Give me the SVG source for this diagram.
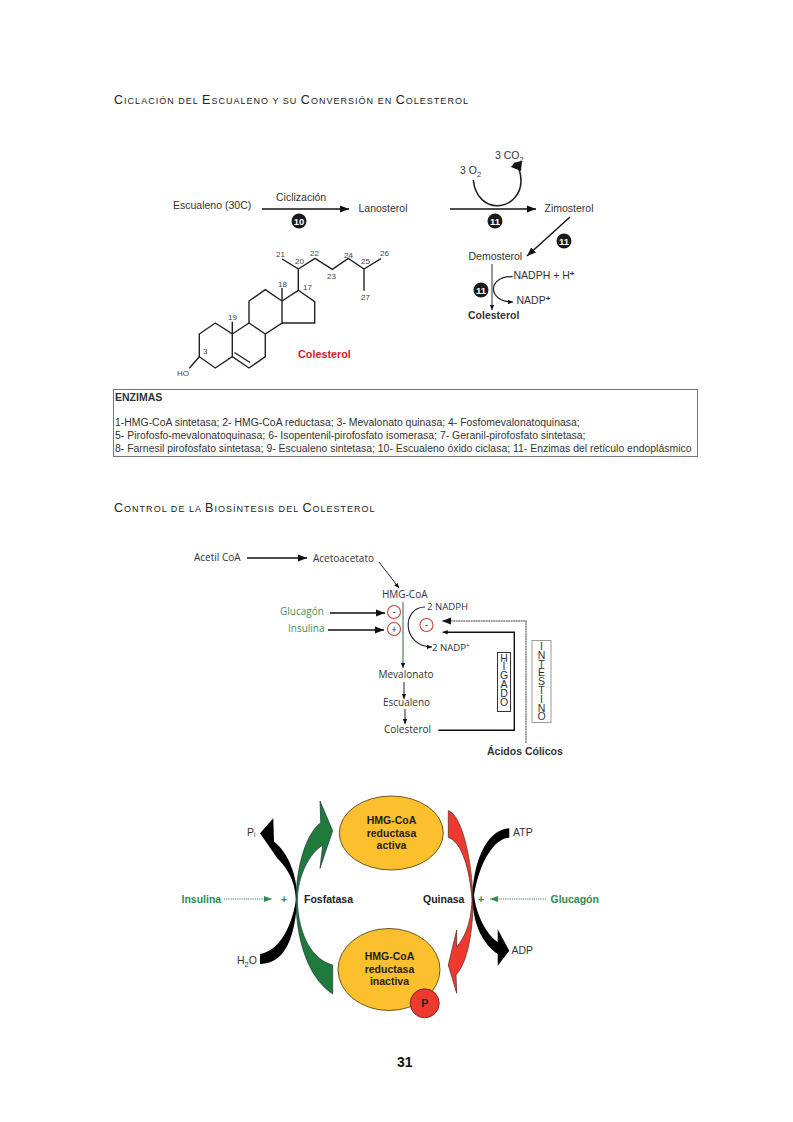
<svg xmlns="http://www.w3.org/2000/svg" width="793" height="1122" viewBox="0 0 793 1122">
<style>
text{font-family:"Liberation Sans",Arial,sans-serif;fill:#333}
.h{font-size:12.5px;letter-spacing:1.02px;fill:#222}
.h tspan{font-size:9px}
.a{font-size:10.5px;fill:#333}
.n{font-size:8px;fill:#444}
.bd{font-weight:bold}
.c{font-family:"Open Sans","Noto Sans",sans-serif;font-size:10px;fill:#333}
.g{fill:#3f8f55}
.ln{fill:none;stroke:#111;stroke-width:1.4}
.st{fill:none;stroke:#222;stroke-width:1.4}
.bn{fill:#1a1a1a}
.bt{fill:#fff;font-size:9.5px;font-weight:bold;text-anchor:middle}
.r{fill:#fff;stroke:#c8403c;stroke-width:1.1}
.rt{font-family:"Open Sans",sans-serif;font-size:10px;text-anchor:middle;fill:#333}
.e{fill:#fcc02e;stroke:#6d5a22;stroke-width:1}
.et{font-size:10.5px;font-weight:bold;text-anchor:middle;fill:#222}
.v{font-size:10.5px;writing-mode:vertical-rl;text-orientation:upright;letter-spacing:-3.2px;fill:#333}
</style>
<defs>
<marker id="m" markerUnits="userSpaceOnUse" markerWidth="10" markerHeight="8" refX="9" refY="4" orient="auto"><path d="M0 .5L9 4L0 7.5z" fill="#111"/></marker>
<marker id="s" markerUnits="userSpaceOnUse" markerWidth="6" markerHeight="6" refX="5" refY="3" orient="auto"><path d="M0 .8L5 3L0 5.2z" fill="#111"/></marker>
<marker id="gm" markerUnits="userSpaceOnUse" markerWidth="10" markerHeight="8" refX="8" refY="4" orient="auto"><path d="M0 1L8 4L0 7z" fill="#2d8a50"/></marker>
</defs>

<text class="h" x="114" y="104">C<tspan>ICLACIÓN DEL </tspan>E<tspan>SCUALENO Y SU </tspan>C<tspan>ONVERSIÓN EN </tspan>C<tspan>OLESTEROL</tspan></text>
<text class="h" x="114" y="512">C<tspan>ONTROL DE LA </tspan>B<tspan>IOSÍNTESIS DEL </tspan>C<tspan>OLESTEROL</tspan></text>

<g id="connectors" fill="none">
<path class="ln" d="M262 209H349" marker-end="url(#m)"/>
<path class="ln" d="M450 209H536" marker-end="url(#m)"/>
<path class="ln" d="M570 217L527 256" marker-end="url(#m)"/>
<path d="M492 264V310" stroke="#333" stroke-width="1" marker-end="url(#s)"/>
<path d="M512.7 276.7C487 276 487 302 513 302" stroke="#222" stroke-width="1.2" marker-end="url(#s)"/>
<path d="M473.3 180C475 198 487 205.7 497 205.7C511 205.7 521 194 521 181C521 174 519 168 516 164" stroke="#222" stroke-width="1.6"/>
<path d="M511 167L514.5 162.500L522 161L521 171z" fill="#111"/>
<path class="ln" d="M247 558H307" marker-end="url(#m)"/>
<path d="M379 562L399 588" stroke="#222" stroke-width="1" marker-end="url(#s)"/>
<path class="ln" d="M330 613H385" marker-end="url(#m)"/>
<path class="ln" d="M328 630H384" marker-end="url(#m)"/>
<path d="M403 602V668" stroke="#2f6b3d" stroke-width="1" marker-end="url(#s)"/>
<path d="M404 682V699" stroke="#222" stroke-width="1" marker-end="url(#s)"/>
<path d="M405 709V724" stroke="#222" stroke-width="1" marker-end="url(#s)"/>
<path d="M425 607C402 607 401 646 432 647" stroke="#222" stroke-width="1.1" marker-end="url(#s)"/>
<path d="M526 742.700V621H442" stroke="#808080" stroke-width="1.5" stroke-dasharray="2 .5" marker-end="url(#m)"/>
<path d="M438.300 730.300H514.300V632.300H442.700" stroke="#111" stroke-width="1.4" marker-end="url(#s)"/>
<path d="M224 899H272" stroke="#2d8a50" stroke-width="1" stroke-dasharray="1.2 1" marker-end="url(#gm)"/>
<path d="M546 899H490" stroke="#2d8a50" stroke-width="1" stroke-dasharray="1.2 1" marker-end="url(#gm)"/>
</g>

<g id="steroid" class="st">
<path d="M199.3 356.7V334L215.3 323L232.3 334V356.7L215.3 368Z"/>
<path d="M232.3 334L249 323L265.3 334V356.7L249 368L232.3 356.7"/>
<path d="M234.5 352.5L250 362.5"/>
<path d="M249 323V301L265.3 289.7L282 301V323L265.3 334"/>
<path d="M282 301L298.3 290.3L314.7 301.7V323H282"/>
<path d="M298.3 290.3V269L282 259M298.3 269L315 258.3L332.3 269.3L348.3 258.3L364 269L381 258.7M364 269V290.7"/>
<path d="M282 301V288M232.3 334V321.7M199.3 356.7L189.3 368.3"/>
</g>
<g id="steroid-labels">
<text class="n" x="276" y="257">21</text><text class="n" x="295" y="264">20</text><text class="n" x="310" y="256">22</text><text class="n" x="327" y="279">23</text><text class="n" x="344" y="258">24</text><text class="n" x="361" y="264">25</text><text class="n" x="380" y="256">26</text><text class="n" x="361" y="300">27</text><text class="n" x="278" y="287">18</text><text class="n" x="303" y="290">17</text><text class="n" x="228" y="320">19</text><text class="n" x="203" y="354">3</text><text class="n" x="177" y="376">HO</text>
<text x="298" y="357.500" font-size="10.800" font-weight="bold" style="fill:#d4202f">Colesterol</text>
</g>

<g id="n-escualeno"><text class="a" x="173" y="209">Escualeno (30C)</text></g>
<g id="n-ciclizacion"><text class="a" x="276" y="201">Ciclización</text></g>
<g id="n-lanosterol"><text class="a" x="358.5" y="212">Lanosterol</text></g>
<g id="n-zimosterol"><text class="a" x="544.5" y="212">Zimosterol</text></g>
<g id="n-demosterol"><text class="a" x="468.5" y="260">Demosterol</text></g>
<g id="n-colesterol1"><text class="a bd" x="468" y="319">Colesterol</text></g>
<g id="n-o2"><text class="a" x="460" y="174">3 O<tspan font-size="7.5" dy="3">2</tspan></text></g>
<g id="n-co2"><text class="a" x="495" y="159">3 CO<tspan font-size="7.5" dy="3">2</tspan></text></g>
<g id="n-nadph"><text class="a" x="513.5" y="279">NADPH + H<tspan font-size="8" font-weight="bold" dy="-3">+</tspan></text></g>
<g id="n-nadp"><text class="a" x="516.5" y="304">NADP<tspan font-size="8" font-weight="bold" dy="-3">+</tspan></text></g>
<g id="b10"><circle class="bn" cx="299" cy="221" r="7.5"/><text class="bt" x="299" y="224.5">10</text></g>
<g id="b11a"><circle class="bn" cx="495" cy="221" r="7.5"/><text class="bt" x="495" y="224.5">11</text></g>
<g id="b11b"><circle class="bn" cx="564" cy="241" r="7.5"/><text class="bt" x="564" y="244.5">11</text></g>
<g id="b11c"><circle class="bn" cx="481" cy="290" r="7.5"/><text class="bt" x="481" y="293.5">11</text></g>

<g id="enzimas">
<rect x="113.5" y="389.5" width="584" height="67" fill="#fff" stroke="#777"/>
<text class="bd" x="115" y="401" font-size="10.5">ENZIMAS</text>
<text x="115" y="426" font-size="10.45">1-HMG-CoA sintetasa; 2- HMG-CoA reductasa; 3- Mevalonato quinasa; 4- Fosfomevalonatoquinasa;</text>
<text x="115" y="439" font-size="10.45">5- Pirofosfo-mevalonatoquinasa; 6- Isopentenil-pirofosfato isomerasa; 7- Geranil-pirofosfato sintetasa;</text>
<text x="115" y="452" font-size="10.45">8- Farnesil pirofosfato sintetasa; 9- Escualeno sintetasa; 10- Escualeno óxido ciclasa; 11- Enzimas del retículo endoplásmico</text>
</g>

<g id="c-acetil"><text class="c" x="194" y="561">Acetil CoA</text></g>
<g id="c-acetoacetato"><text class="c" x="313" y="562">Acetoacetato</text></g>
<g id="c-hmg"><text class="c" x="382" y="598">HMG-CoA</text></g>
<g id="c-glucagon"><text class="c g" x="280" y="615">Glucagón</text></g>
<g id="c-insulina"><text class="c g" x="288" y="632">Insulina</text></g>
<g id="c-mev"><text class="c" x="378.5" y="678">Mevalonato</text></g>
<g id="c-esc"><text class="c" x="383" y="706">Escualeno</text></g>
<g id="c-col"><text class="c" x="384" y="733">Colesterol</text></g>
<g id="c-nadph"><text class="c" x="427" y="610" style="font-size:9.6px">2 NADPH</text></g>
<g id="c-nadp"><text class="c" x="432" y="651" style="font-size:9.6px">2 NADP<tspan font-size="6.5" dy="-3">+</tspan></text></g>
<g id="c-menos1"><circle class="r" cx="394" cy="612" r="6.5"/><text class="rt" x="394" y="615">-</text></g>
<g id="c-mas"><circle class="r" cx="394" cy="629" r="6.5"/><text class="rt" x="394" y="632.5">+</text></g>
<g id="c-menos2"><circle class="r" cx="426.5" cy="625" r="6.5"/><text class="rt" x="426.5" y="628">-</text></g>
<g id="c-higado"><rect x="497.5" y="652.5" width="13" height="59" fill="#fff" stroke="#333"/>
<text class="v" x="504" y="651.500">HÍGADO</text></g>
<g id="c-intestino"><rect x="532" y="640.5" width="19" height="82" fill="#fff" stroke="#999"/>
<text class="v" x="541.5" y="640">INTESTINO</text></g>
<g id="c-acidos"><text class="a bd" x="487" y="755">Ácidos Cólicos</text></g>

<g id="e-activa"><ellipse class="e" cx="391.3" cy="833" rx="52" ry="37"/>
<text class="et" x="391.500" y="824">HMG-CoA</text><text class="et" x="391.500" y="836.5">reductasa</text><text class="et" x="391.500" y="849">activa</text></g>
<g id="e-inactiva"><ellipse class="e" cx="389" cy="969.5" rx="51" ry="41"/>
<text class="et" x="389.500" y="960">HMG-CoA</text><text class="et" x="389.500" y="972.500">reductasa</text><text class="et" x="389.500" y="985">inactiva</text>
<circle cx="424.7" cy="1003.3" r="14.5" fill="#ee3a2e" stroke="#7a2a20"/><text class="et" x="424.7" y="1007">P</text></g>

<g id="arrows-left">
<path d="M260 833.300L273.300 818.300L274 841.700C288 852 297 875 297.300 898C296 925 290 964 260 964V954C278 951 291 930 296 900C295 880 287 868 277.300 858.300Z" fill="#000"/>
<path d="M332.700 830.700L320 801L320.700 822.700C306.700 833.300 296.700 863.300 296 900C296 936.700 306.700 976.700 332.700 994V965C313.300 960 298.300 936.700 297.300 900C298.300 873.300 310 853.300 322.700 845L320 868.300Z" fill="#1f7a3c" stroke="#123" stroke-width=".6"/>
</g>
<g id="arrows-right">
<path d="M448.300 810.700C462 815 472 860 473 900C473 930 468 962 456 975L456.700 993.300L448.300 965L456.700 930L456.700 947C464 938 471 925 472 900C470 870 462 842 448.300 837.300Z" fill="#ee3a2e" stroke="#522" stroke-width=".7"/>
<path d="M509.300 828.300V837.700C495 838 480 860 474 895C476 915 487 935 497.700 942V929.300L509.300 950.700L497.700 965.700V954C484 945 472 925 472.500 895C474 855 490 829 509.300 828.300Z" fill="#000"/>
</g>
<g id="labels-bottom">
<text class="a" x="247" y="836">P<tspan font-size="6.5" dy="1">i</tspan></text>
<text class="a" x="237" y="964">H<tspan font-size="7.5" dy="2.5">2</tspan><tspan dy="-2.5">O</tspan></text>
<text class="a" x="513" y="836">ATP</text>
<text class="a" x="511.5" y="954">ADP</text>
<text class="et" x="181.5" y="903" style="fill:#2d8a50;text-anchor:start">Insulina</text>
<text class="et" x="281" y="903" style="fill:#2d8a50;text-anchor:start">+</text>
<text class="et" x="304" y="903" style="text-anchor:start">Fosfatasa</text>
<text class="et" x="423" y="903" style="text-anchor:start">Quinasa</text>
<text class="et" x="478" y="903" style="fill:#2d8a50;text-anchor:start">+</text>
<text class="et" x="550.5" y="903" style="fill:#2d8a50;text-anchor:start">Glucagón</text>
</g>
<text x="397" y="1067" font-size="14" font-weight="bold" style="fill:#111">31</text>
</svg>
